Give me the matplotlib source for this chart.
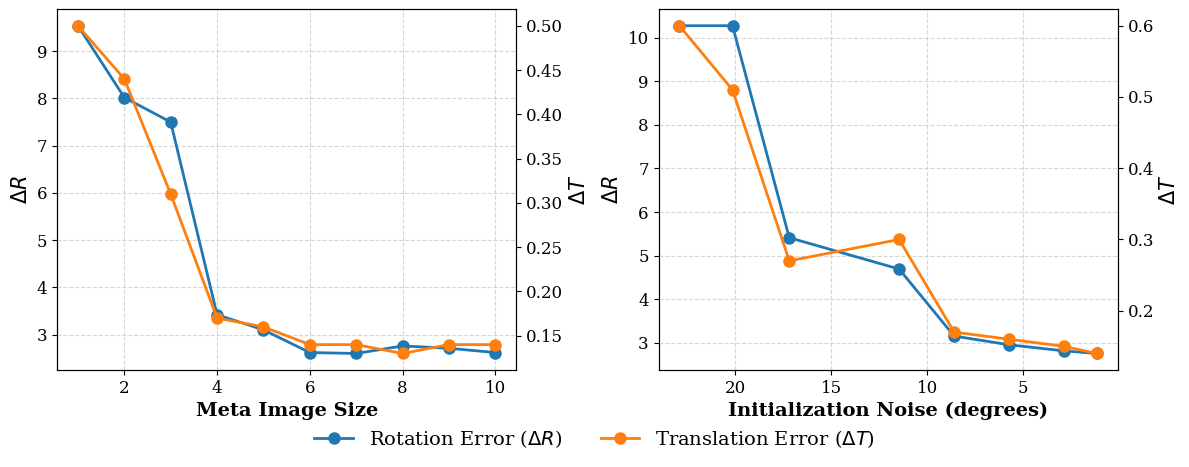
import matplotlib.pyplot as plt

plt.rcParams["font.family"] = "DejaVu Serif"
plt.rcParams["mathtext.fontset"] = "dejavusans"

# datos panel izquierdo
meta_size = [1, 2, 3, 4, 5, 6, 7, 8, 9, 10]
rot_meta = [9.54, 8.02, 7.50, 3.42, 3.10, 2.62, 2.60, 2.76, 2.71, 2.62]
trans_meta = [0.50, 0.44, 0.31, 0.17, 0.16, 0.14, 0.14, 0.13, 0.14, 0.14]

# datos panel derecho
noise_deg = [22.92, 20.15, 17.19, 11.46, 8.59, 5.73, 2.86, 1.15]
rot_noise = [10.28, 10.28, 5.41, 4.69, 3.15, 2.95, 2.81, 2.75]
trans_noise = [0.60, 0.51, 0.27, 0.30, 0.17, 0.16, 0.15, 0.14]

c_rot = "#1f77b4"
c_trans = "#ff7f0e"

fig, axes = plt.subplots(1, 2, figsize=(11.89, 4.67), dpi=100)
fig.subplots_adjust(left=0.048, right=0.94, top=0.98, bottom=0.208, wspace=0.31)


def panel(ax, x, r, t, xlabel):
    l1, = ax.plot(x, r, "-o", color=c_rot, lw=2, ms=8, label=r"Rotation Error ($\Delta R$)")
    ax.set_ylabel(r"$\Delta R$", fontsize=15)
    ax.set_xlabel(xlabel, fontsize=14, fontweight="bold")
    ax.grid(True, linestyle="--", color="#cccccc", alpha=0.8)
    ax.tick_params(labelsize=12)
    ax2 = ax.twinx()
    l2, = ax2.plot(x, t, "-o", color=c_trans, lw=2, ms=8, label=r"Translation Error ($\Delta T$)")
    ax2.set_ylabel(r"$\Delta T$", fontsize=15)
    ax2.tick_params(labelsize=12)
    return l1, l2


h = panel(axes[0], meta_size, rot_meta, trans_meta, "Meta Image Size")
panel(axes[1], noise_deg, rot_noise, trans_noise, "Initialization Noise (degrees)")
axes[1].invert_xaxis()
axes[1].set_xticks([20, 15, 10, 5])

fig.legend(h, [l.get_label() for l in h], loc="lower center", ncol=2,
           frameon=False, fontsize=14, bbox_to_anchor=(0.5, 0.0))

fig.savefig("out.png", dpi=100)
